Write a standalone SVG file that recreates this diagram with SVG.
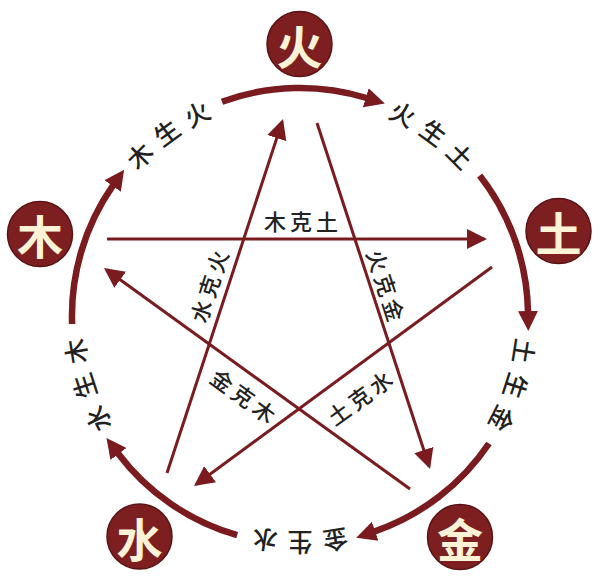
<svg xmlns="http://www.w3.org/2000/svg" width="600" height="576" viewBox="0 0 600 576">
<style>
.arc{fill:none;stroke:#7a1b20;stroke-width:6.5;marker-end:url(#ah)}
.ke{fill:none;stroke:#7a1b20;stroke-width:3;marker-end:url(#ak)}
.node circle{fill:#7d1f21;stroke:#5a1214;stroke-width:1.5}
.node text{fill:#fcf3d6;font-family:"Noto Sans CJK SC","Noto Sans",sans-serif;font-weight:700;font-size:46px;text-anchor:middle;dominant-baseline:central}
.sl{fill:#222222;font-family:"Noto Sans CJK SC","Noto Sans",sans-serif;font-weight:500;font-size:25px;text-anchor:middle;dominant-baseline:central}
.kl{fill:#222222;font-family:"Noto Sans CJK SC","Noto Sans",sans-serif;font-weight:500;font-size:22px;letter-spacing:4px;text-anchor:middle;dominant-baseline:central}
</style>
<defs>
<marker id="ah" markerUnits="userSpaceOnUse" markerWidth="22" markerHeight="22" refX="1" refY="11" orient="auto">
<path d="M0,1 L20,11 L0,21 z" fill="#7a1b20"/>
</marker>
<marker id="ak" markerUnits="userSpaceOnUse" markerWidth="20" markerHeight="20" refX="17" refY="10" orient="auto">
<path d="M0,0 L20,10 L0,20 z" fill="#7a1b20"/>
</marker>
</defs>
<rect width="600" height="576" fill="#ffffff"/>
<g id="connectors">
<path class="arc" d="M222.0,101.7 A228,228 0 0 1 366.7,98.0"/>
<path class="arc" d="M479.7,175.6 A228,228 0 0 1 528.0,312.0"/>
<path class="arc" d="M489.0,443.5 A228,228 0 0 1 374.2,531.6"/>
<path class="arc" d="M237.2,535.2 A228,228 0 0 1 117.9,453.2"/>
<path class="arc" d="M72.1,324.0 A228,228 0 0 1 113.2,185.2"/>
<path class="ke" d="M107,239 L484,239"/>
<path class="ke" d="M317,123 L429.1,466.2"/>
<path class="ke" d="M410,489 L106.4,269.8"/>
<path class="ke" d="M167,473 L282.1,121.9"/>
<path class="ke" d="M492,267 L196.4,484.2"/>
</g>
<g id="labels">
<text class="sl" x="138.8" y="154.8" transform="rotate(-45 138.8 154.8)">木</text>
<text class="sl" x="166.0" y="131.6" transform="rotate(-36 166.0 131.6)">生</text>
<text class="sl" x="196.5" y="112.9" transform="rotate(-27 196.5 112.9)">火</text>
<text class="sl" x="403.5" y="112.9" transform="rotate(27 403.5 112.9)">火</text>
<text class="sl" x="434.0" y="131.6" transform="rotate(36 434.0 131.6)">生</text>
<text class="sl" x="461.2" y="154.8" transform="rotate(45 461.2 154.8)">土</text>
<text class="sl" x="525.2" y="351.7" transform="rotate(99 525.2 351.7)">土</text>
<text class="sl" x="516.8" y="386.5" transform="rotate(108 516.8 386.5)">生</text>
<text class="sl" x="503.1" y="419.5" transform="rotate(117 503.1 419.5)">金</text>
<text class="sl" x="335.7" y="541.2" transform="rotate(171 335.7 541.2)">金</text>
<text class="sl" x="300.0" y="544.0" transform="rotate(180 300 544)">生</text>
<text class="sl" x="264.3" y="541.2" transform="rotate(189 264.3 541.2)">水</text>
<text class="sl" x="96.9" y="419.5" transform="rotate(243 96.9 419.5)">水</text>
<text class="sl" x="83.2" y="386.5" transform="rotate(252 83.2 386.5)">生</text>
<text class="sl" x="74.8" y="351.7" transform="rotate(261 74.8 351.7)">木</text>
<text class="kl" x="303" y="220">木克土</text>
<text class="kl" x="210" y="286" transform="rotate(-72 208 286)">水克火</text>
<text class="kl" x="389" y="285" transform="rotate(72 387 285)">火克金</text>
<text class="kl" x="246" y="395" transform="rotate(36 244 395)">金克木</text>
<text class="kl" x="361" y="397" transform="rotate(-36 359 397)">土克水</text>
</g>
<g id="node-fire" class="node"><circle cx="299.5" cy="44" r="32.5"/><text x="299.5" y="44">火</text></g>
<g id="node-earth" class="node"><circle cx="558.5" cy="231" r="32.5"/><text x="558.5" y="231">土</text></g>
<g id="node-metal" class="node"><circle cx="460" cy="537" r="32.5"/><text x="460" y="537">金</text></g>
<g id="node-water" class="node"><circle cx="139.5" cy="536.5" r="32.5"/><text x="139.5" y="536.5">水</text></g>
<g id="node-wood" class="node"><circle cx="40" cy="234" r="32.5"/><text x="40" y="234">木</text></g>
</svg>
